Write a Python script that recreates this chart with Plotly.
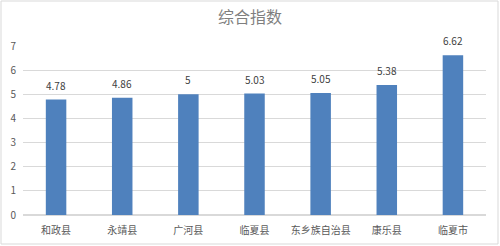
import plotly.graph_objects as go

categories = ["和政县", "永靖县", "广河县", "临夏县", "东乡族自治县", "康乐县", "临夏市"]
values = [4.78, 4.86, 5, 5.03, 5.05, 5.38, 6.62]
labels = ["4.78", "4.86", "5", "5.03", "5.05", "5.38", "6.62"]
yticks = [0, 1, 2, 3, 4, 5, 6, 7]

W, H = 500, 246
ml, mr, mt, mb = 23, 14, 46, 31
pw, ph = W - ml - mr, H - mt - mb

font = "Noto Sans CJK SC, Microsoft YaHei, sans-serif"

fig = go.Figure(go.Bar(
    x=categories, y=values,
    marker=dict(color="#4F81BD", line=dict(width=0)),
    cliponaxis=False, width=0.31,
))

for c, v, t in zip(categories, values, labels):
    fig.add_annotation(x=c, y=v, text=t, showarrow=False, yanchor="bottom", yshift=5,
                       font=dict(size=10, color="#404040", family=font))

fig.update_layout(
    width=W, height=H,
    margin=dict(l=ml, r=mr, t=mt, b=mb),
    paper_bgcolor="white", plot_bgcolor="white",
    showlegend=False,
    title=dict(text="综合指数", x=0.5, xanchor="center", y=1 - 17 / H, yanchor="middle",
               font=dict(size=16, color="#7f7f7f", family=font)),
    xaxis=dict(showgrid=False, showline=False, ticks="", ticklabelstandoff=8, automargin=False,
               tickfont=dict(size=10, color="#595959", family=font)),
    yaxis=dict(range=[0, 7], tickvals=yticks, showgrid=True, gridcolor="#d9d9d9", gridwidth=1,
               zeroline=True, zerolinecolor="#d9d9d9", showline=False, ticks="", ticklabelstandoff=6,
               automargin=False, tickfont=dict(size=10, color="#595959", family=font)),
    shapes=[dict(type="rect", xref="paper", yref="paper",
                 x0=(1 - ml) / pw, x1=(W - 2 - ml) / pw,
                 y0=(mt + ph - (H - 2)) / ph, y1=(mt + ph - 1) / ph,
                 line=dict(color="#d9d9d9", width=1), fillcolor="rgba(0,0,0,0)", layer="below")],
)

fig.write_html("out.html")
